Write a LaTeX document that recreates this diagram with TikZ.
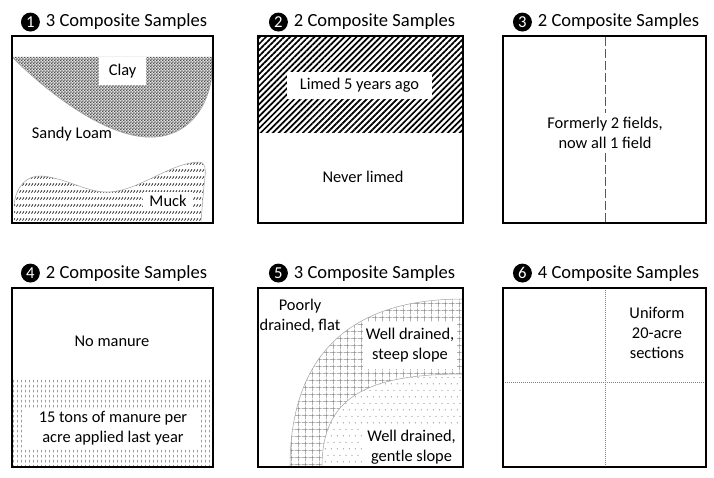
\documentclass[tikz,border=0pt]{standalone}
\usepackage{fontspec}
\setmainfont{Carlito}
\usepackage{tikz}
\usetikzlibrary{patterns,patterns.meta,positioning}

% Patrones de relleno
\pgfdeclarepatternformonly{arcilla}{\pgfqpoint{0pt}{0pt}}{\pgfqpoint{2.4pt}{2.4pt}}{\pgfqpoint{2.4pt}{2.4pt}}{%
  \pgfpathrectangle{\pgfqpoint{0pt}{0pt}}{\pgfqpoint{1.2pt}{1.2pt}}%
  \pgfpathrectangle{\pgfqpoint{1.2pt}{1.2pt}}{\pgfqpoint{1.2pt}{1.2pt}}%
  \pgfusepath{fill}}
\pgfdeclarepatternformonly{turba}{\pgfqpoint{0pt}{0pt}}{\pgfqpoint{2.5pt}{5.2pt}}{\pgfqpoint{2.5pt}{5.2pt}}{%
  \pgfsetlinewidth{0.6pt}%
  \pgfpathmoveto{\pgfqpoint{0.4pt}{1.1pt}}%
  \pgfpathlineto{\pgfqpoint{1.8pt}{2.7pt}}%
  \pgfusepath{stroke}}
\pgfdeclarepatternformonly{estiercol}{\pgfqpoint{0pt}{0pt}}{\pgfqpoint{3pt}{3.8pt}}{\pgfqpoint{3pt}{3.8pt}}{%
  \pgfsetlinewidth{0.6pt}%
  \pgfpathmoveto{\pgfqpoint{1.5pt}{0.6pt}}%
  \pgfpathlineto{\pgfqpoint{1.5pt}{2.7pt}}%
  \pgfusepath{stroke}}
\pgfdeclarepatternformonly{rejilla}{\pgfqpoint{0pt}{0pt}}{\pgfqpoint{5.2pt}{5.2pt}}{\pgfqpoint{5.2pt}{5.2pt}}{%
  \pgfsetlinewidth{0.4pt}%
  \pgfpathmoveto{\pgfqpoint{0pt}{0.2pt}}\pgfpathlineto{\pgfqpoint{1.9pt}{0.2pt}}%
  \pgfpathmoveto{\pgfqpoint{2.7pt}{0.2pt}}\pgfpathlineto{\pgfqpoint{5.2pt}{0.2pt}}%
  \pgfpathmoveto{\pgfqpoint{0.2pt}{0pt}}\pgfpathlineto{\pgfqpoint{0.2pt}{1.9pt}}%
  \pgfpathmoveto{\pgfqpoint{0.2pt}{2.7pt}}\pgfpathlineto{\pgfqpoint{0.2pt}{5.2pt}}%
  \pgfusepath{stroke}}
\pgfdeclarepatternformonly{puntos}{\pgfqpoint{0pt}{0pt}}{\pgfqpoint{4.6pt}{10pt}}{\pgfqpoint{4.6pt}{10pt}}{%
  \pgfpathcircle{\pgfqpoint{1.1pt}{2.5pt}}{0.4pt}%
  \pgfpathcircle{\pgfqpoint{3.4pt}{7.5pt}}{0.4pt}%
  \pgfusepath{fill}}

\tikzset{
  campo/.style={draw, line width=1.8pt},
  titulo/.style={font=\fontsize{13.9}{16}\selectfont},
  badge/.style={circle, fill=black, text=white, inner sep=0pt, minimum size=14.2pt,
    font=\fontsize{12.5}{12.5}\selectfont},
  etiqueta/.style={font=\fontsize{12.3}{15}\selectfont, align=center},
  recuadro/.style={etiqueta, fill=white, inner sep=0pt},
  borde/.style={gray!70, line width=0.4pt},
}

\begin{document}
\begin{tikzpicture}[x=0.75pt, y=-0.75pt]
  \useasboundingbox (0,0) rectangle (714,478);

  % Titulos
  \foreach \n/\cx/\ty/\k in {1/112.5/27/3, 2/360.5/27/2, 3/604.5/27/2,
                             4/112.5/278/2, 5/360.5/278/3, 6/604.5/278/4} {
    \node[titulo, anchor=base] (t\n) at (\cx+14,\ty) {\k\ Composite Samples};
    \node[badge, left=0.8pt of t\n.west] (b\n) {\n};
  }

  % 1: suelos
  \fill[gray!22] (12,57) -- (213,57) -- (213,62)
    .. controls (212,110) and (185,140) .. (145,137)
    .. controls (102,134) and (48,93) .. (12,57) -- cycle;
  \fill[pattern=arcilla, pattern color=black!70] (12,57) -- (213,57) -- (213,62)
    .. controls (212,110) and (185,140) .. (145,137)
    .. controls (102,134) and (48,93) .. (12,57) -- cycle;
  \draw[borde] (213,62) .. controls (212,110) and (185,140) .. (145,137)
    .. controls (102,134) and (48,93) .. (12,57);
  \fill[pattern=turba, pattern color=black!90] (14,221) -- (14,205)
    .. controls (16,186) and (27,175) .. (42,176)
    .. controls (70,179) and (86,193) .. (110,192)
    .. controls (140,190) and (170,163) .. (199,162)
    .. controls (208,162) and (205,176) .. (204,186) -- (201,221) -- cycle;
  \draw[borde] (14,205)
    .. controls (16,186) and (27,175) .. (42,176)
    .. controls (70,179) and (86,193) .. (110,192)
    .. controls (140,190) and (170,163) .. (199,162)
    .. controls (208,162) and (205,176) .. (204,186) -- (201,221);
  \node[recuadro, minimum width=35.25pt, minimum height=21pt] (clay) at (122.5,71) {Clay};
  \node[etiqueta] (sandy) at (72,134) {Sandy Loam};
  \node[recuadro, minimum width=37.5pt, minimum height=14pt] (muck) at (168,201) {Muck};
  \draw[campo] (12,36) rectangle (213,223);

  % 2: encalado
  \fill[pattern={Lines[angle=45,distance=3.2pt,line width=1.3pt]}, pattern color=black]
    (258,36) rectangle (463,132);
  \node[recuadro, minimum width=108.75pt, minimum height=20.25pt] (limed) at (359.5,85.5) {Limed 5 years ago};
  \node[etiqueta] (never) at (363,177) {Never limed};
  \draw[campo] (258,36) rectangle (463,223);

  % 3: dos campos antiguos
  \node[etiqueta] (formerly) at (605,133) {Formerly 2 fields,\\now all 1 field};
  \coordinate (p3top) at (605,37);
  \coordinate (p3bot) at (605,222);
  \draw[gray!70!black, line width=0.7pt, dash pattern=on 6.5pt off 2.5pt]
    (p3top) -- (formerly.north) (formerly.south) -- (p3bot);
  \draw[campo] (503,36) rectangle (706,223);

  % 4: estiercol
  \fill[pattern=estiercol, pattern color=black!60] (12,380) rectangle (213,467);
  \node[etiqueta] (nomanure) at (112,341) {No manure};
  \node[recuadro, minimum width=132pt, minimum height=30pt] (manure) at (113,428)
    {15 tons of manure per\\acre applied last year};
  \draw[campo] (12,288) rectangle (213,467);

  % 5: drenaje
  \fill[pattern=rejilla, pattern color=gray!95] (290,467)
    .. controls (290,360) and (345,299) .. (463,299) -- (463,374)
    .. controls (362,374) and (322,400) .. (322,467) -- cycle;
  \fill[pattern=puntos, pattern color=gray!60!black] (322,467)
    .. controls (322,400) and (362,374) .. (463,374) -- (463,467) -- cycle;
  \draw[borde] (290,467) .. controls (290,360) and (345,299) .. (463,299);
  \draw[borde] (322,467) .. controls (322,400) and (362,374) .. (463,374);
  \node[etiqueta] (poorly) at (300,316) {Poorly\\drained, flat};
  \node[recuadro, minimum width=70.5pt, minimum height=35.25pt] (steep) at (410,345.5)
    {Well drained,\\steep slope};
  \node[recuadro, minimum width=74pt, minimum height=29pt] (gentle) at (411.5,447)
    {Well drained,\\gentle slope};
  \draw[campo] (258,288) rectangle (463,467);

  % 6: secciones uniformes
  \draw[gray, densely dotted, line width=0.5pt] (605,288) -- (605,467) (503,382) -- (706,382);
  \node[etiqueta] (uniform) at (657,333) {Uniform\\20-acre\\sections};
  \draw[campo] (503,288) rectangle (706,467);

\end{tikzpicture}
\end{document}
